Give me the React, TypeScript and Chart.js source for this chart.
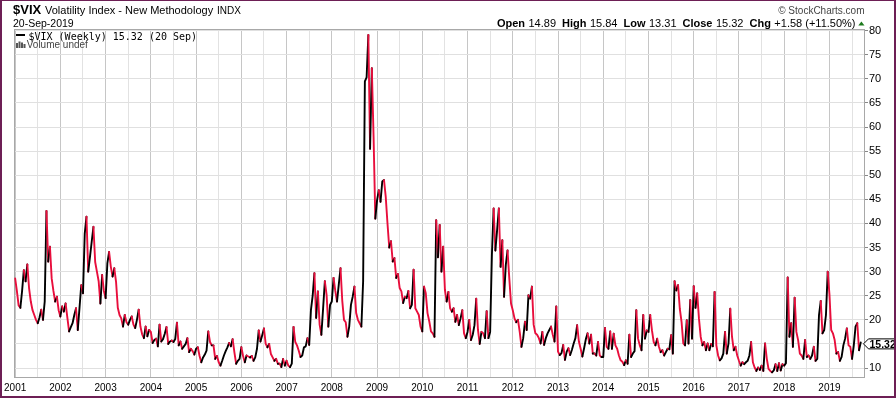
import React, { useEffect, useRef } from 'react';
import { Chart, registerables } from 'chart.js';

Chart.register(...registerables);

// Weekly VIX closes sampled roughly every two weeks (26 values per year)
const v2001 = [28.6, 26, 23, 22.5, 26, 30.3, 28, 31.5, 26.6, 23.8, 22, 21, 20, 19.3, 20.5, 22.1, 20, 23.8, 42.6, 32.1, 35.2, 28.6, 26, 23.8, 24.8, 22];
const v2002 = [20.7, 22.8, 21.7, 23.4, 20.5, 17.6, 18.5, 19.3, 21, 22.4, 17.9, 22.5, 27.2, 25.5, 37.9, 41.4, 30, 33, 36.2, 39.3, 32, 30, 28, 23.4, 29.3, 26];
const v2003 = [24.5, 31.7, 34.1, 31, 29, 30.7, 27.9, 22.5, 21, 20.3, 18.6, 21, 19.5, 19, 20, 20.7, 19, 18.3, 20, 22.1, 18.6, 17, 16.2, 18.6, 16.6, 17.9];
const v2004 = [17.5, 15.2, 15.8, 16.1, 14.5, 19, 15.5, 16, 17.1, 18.5, 15, 15.5, 15.7, 15.4, 16, 19.4, 14.7, 15.5, 14, 14.5, 15, 16.2, 13.3, 14, 13.5, 12.8];
const v2005 = [14, 14.3, 12.5, 11.2, 12.2, 12.8, 13.6, 17.6, 15.4, 14.7, 14.7, 11.9, 12.5, 11.2, 10.5, 11.5, 12.6, 13.5, 14.3, 15.2, 14.5, 16, 13.3, 10.9, 11.5, 11.9];
const v2006 = [14.3, 12.5, 11.2, 12.6, 12.4, 12.2, 12.5, 11.5, 12.2, 14, 17.8, 15.5, 16.8, 18.2, 15, 14.3, 15, 12.9, 12.2, 11.5, 11.9, 10.9, 10.9, 10.2, 11.9, 10.5];
const v2007 = [11.5, 10.5, 10.2, 10.9, 18.5, 15.4, 14.7, 13.6, 12.3, 12.6, 14.3, 14.5, 16.2, 14.8, 22, 25, 29.7, 20.4, 25.9, 19, 16.9, 22.4, 28, 25.2, 18.6, 23.1];
const v2008 = [23.8, 28.7, 26, 23.8, 27.3, 30.7, 24, 20, 19.5, 16.5, 18.6, 23.1, 24.8, 26.9, 21.4, 20, 19.3, 18.6, 28, 69.5, 70.3, 79.1, 55.5, 72.2, 58, 41];
const v2009 = [44.8, 46.9, 44.5, 48.7, 49, 45.5, 40, 35, 36.3, 32.1, 32.8, 28.7, 29.5, 26.6, 25.9, 23.5, 24.8, 24.5, 26, 22.4, 23.1, 30.4, 22.4, 21.7, 21, 18.6];
const v2010 = [17.6, 26.9, 25.5, 21.4, 19.7, 17.6, 17.2, 16.5, 40.7, 33, 39.7, 30, 35.2, 26.2, 23.8, 25.8, 22.4, 21.7, 22.4, 19.6, 21, 18.9, 20.3, 22, 17.2, 16.2];
const v2011 = [17.5, 20, 15.8, 16.9, 18.9, 24.4, 17.9, 15, 17.5, 17.2, 16.2, 21.8, 16.2, 17.5, 33.4, 43.1, 34.4, 38.6, 43.1, 31, 36.5, 24.8, 31.4, 34.4, 28.6, 23.4];
const v2012 = [22, 20.3, 19.5, 20, 17.5, 14.4, 16.2, 19.6, 17.9, 25.1, 24.4, 26.9, 19, 17.2, 16.9, 16.2, 15.1, 17.5, 14.8, 16.2, 17.2, 17.9, 18.6, 16.9, 15.5, 22.8];
const v2013 = [13.4, 12.7, 13.1, 14.8, 11.7, 13.4, 14.1, 12.7, 13.8, 15.1, 16.2, 18.9, 15.5, 14, 12.4, 14.1, 16, 17.2, 15.1, 16.9, 13, 13, 12.6, 15.4, 12.6, 12.3];
const v2014 = [12.3, 18.3, 14.4, 14, 17.6, 14, 17.1, 14.7, 14, 12.6, 11.6, 11.3, 10.6, 11.6, 10.9, 16.9, 12.3, 13, 13.5, 22, 16.1, 14.7, 13.7, 21, 16.1, 17.8];
const v2015 = [17.5, 21, 17.8, 15.4, 14.7, 16.1, 14.4, 13.3, 13.7, 12.6, 13.3, 14, 13.9, 16.8, 13, 28, 26.1, 27.2, 22.3, 19.6, 15.1, 14.7, 19.9, 15.1, 24.1, 16.1];
const v2016 = [27, 22.5, 25.5, 20.3, 16.5, 14.7, 15.4, 13.7, 15.1, 13.7, 15, 14.5, 25.8, 14.7, 12.6, 11.6, 12, 13, 17.5, 13, 15.1, 22.3, 16.5, 13.7, 14.4, 12.6];
const v2017 = [11.5, 10.5, 11.2, 10.8, 11.2, 11.5, 12.6, 15.4, 11.2, 10.1, 9.4, 10.1, 9.6, 10.5, 9.4, 15.1, 11.9, 9.8, 9.4, 9.1, 9.5, 10.8, 9.4, 11, 9.5, 10.8];
const v2018 = [10.5, 11, 28.8, 16.5, 19.3, 14.4, 24.6, 17.5, 15.8, 13, 12.6, 11.9, 15.8, 12.3, 12.6, 11.9, 12.6, 14.4, 11.5, 11.9, 21, 23.9, 17.2, 17.9, 21, 30];
const v2019 = [25.3, 17.9, 17.2, 15.8, 13, 13.3, 11.5, 12.3, 14.7, 16.1, 18.2, 14.7, 14.4, 11.9, 14.7, 18.6, 19.3, 13.7, 15.32];

const years = [2001, 2002, 2003, 2004, 2005, 2006, 2007, 2008, 2009, 2010, 2011, 2012, 2013, 2014, 2015, 2016, 2017, 2018, 2019];
const yearlyValues = [v2001, v2002, v2003, v2004, v2005, v2006, v2007, v2008, v2009, v2010, v2011, v2012, v2013, v2014, v2015, v2016, v2017, v2018, v2019];
const samplesPerYear = 26;

const yTicks = [10, 15, 20, 25, 30, 35, 40, 45, 50, 55, 60, 65, 70, 75, 80];
const lastClose = 15.32;
const quoteLabels = ['Open', 'High', 'Low', 'Close', 'Chg'];
const quoteValues = ['14.89', '15.84', '13.31', '15.32', '+1.58 (+11.50%)'];

const RED = 'rgb(232,14,60)';
const BLACK = '#000000';
const SANS = '"Liberation Sans", Arial, Helvetica, sans-serif';
const MONO = '"DejaVu Sans Mono", monospace';

const points: { x: number; y: number }[] = [];
yearlyValues.forEach((arr, k) => {
  arr.forEach((v, i) => points.push({ x: years[k] + i / samplesPerYear, y: v }));
});

const xGridTicks: number[] = [];
years.forEach((y) => {
  xGridTicks.push(y);
  xGridTicks.push(y + 0.5);
});

const decorPlugin = {
  id: 'decor',
  beforeDatasetsDraw(chart: any) {
    const { ctx, chartArea } = chart;
    ctx.save();
    ctx.strokeStyle = '#a8a8a8';
    ctx.lineWidth = 1;
    ctx.strokeRect(Math.round(chartArea.left) + 0.5, Math.round(chartArea.top) + 0.5,
      Math.round(chartArea.right - chartArea.left) - 1, Math.round(chartArea.bottom - chartArea.top) - 1);
    ctx.restore();
  },
  afterDraw(chart: any) {
    const { ctx, chartArea } = chart;
    const yScale = chart.scales.y;
    ctx.save();
    ctx.textBaseline = 'alphabetic';
    ctx.textAlign = 'left';
    ctx.fillStyle = '#000';
    ctx.font = `bold 13px ${SANS}`;
    ctx.fillText('$VIX', 13, 13.5);
    ctx.font = `11px ${SANS}`;
    ctx.fillText('Volatility Index - New Methodology', 45, 13.5);
    ctx.font = `10px ${SANS}`;
    ctx.fillText('INDX', 217, 13.5);
    ctx.font = `10.5px ${SANS}`;
    ctx.fillText('20-Sep-2019', 13, 26.5);

    ctx.fillStyle = '#444';
    ctx.textAlign = 'right';
    ctx.font = `10px ${SANS}`;
    ctx.fillText('\u00A9 StockCharts.com', 864.5, 13.5);

    // quote line
    ctx.textAlign = 'left';
    ctx.fillStyle = '#000';
    const bold = `bold 11px ${SANS}`;
    const norm = `11px ${SANS}`;
    let total = 0;
    const parts: { t: string; f: string; w: number; gap: number }[] = [];
    quoteLabels.forEach((lab, i) => {
      ctx.font = bold;
      const w1 = ctx.measureText(lab).width;
      parts.push({ t: lab, f: bold, w: w1, gap: 3.5 });
      ctx.font = norm;
      const w2 = ctx.measureText(quoteValues[i]).width;
      const g = i < quoteLabels.length - 1 ? 6 : 0;
      parts.push({ t: quoteValues[i], f: norm, w: w2, gap: g });
      total += w1 + 3.5 + w2 + g;
    });
    let x = 855.5 - total;
    parts.forEach((p) => {
      ctx.font = p.f;
      ctx.fillText(p.t, x, 26.5);
      x += p.w + p.gap;
    });
    ctx.fillStyle = '#1d7a1d';
    ctx.beginPath();
    ctx.moveTo(858.3, 25.5);
    ctx.lineTo(864.5, 25.5);
    ctx.lineTo(861.4, 21.6);
    ctx.closePath();
    ctx.fill();

    // legend inside plot
    ctx.fillStyle = '#000';
    ctx.fillRect(16, 34, 9, 2);
    ctx.font = `10px ${MONO}`;
    ctx.fillText(`$VIX (Weekly) ${lastClose.toFixed(2)} (20 Sep)`, 28.5, 39.5);
    ctx.fillStyle = '#555';
    ctx.fillRect(16, 43, 2, 5);
    ctx.fillRect(18.5, 41.5, 2, 6.5);
    ctx.fillRect(21, 42.5, 2, 5.5);
    ctx.fillRect(23.5, 44, 2, 4);
    ctx.font = `10px ${SANS}`;
    ctx.fillStyle = '#444';
    ctx.fillText('Volume undef', 26.7, 48);

    // price tag
    const yc = yScale.getPixelForValue(lastClose) + 1.5;
    const xl = chartArea.right - 1.5;
    ctx.beginPath();
    ctx.moveTo(xl, yc);
    ctx.lineTo(xl + 5, yc - 5);
    ctx.lineTo(895, yc - 5);
    ctx.lineTo(895, yc + 5);
    ctx.lineTo(xl + 5, yc + 5);
    ctx.closePath();
    ctx.fillStyle = '#fff';
    ctx.fill();
    ctx.strokeStyle = '#000';
    ctx.lineWidth = 1;
    ctx.stroke();
    ctx.fillStyle = '#000';
    ctx.font = `bold 10.5px ${SANS}`;
    ctx.fillText(lastClose.toFixed(2), xl + 6, yc + 4);
    ctx.restore();
  },
};

export default function App() {
  const ref = useRef<HTMLCanvasElement>(null);
  useEffect(() => {
    const canvas = ref.current;
    if (!canvas) return;
    const chart = new Chart(canvas, {
      type: 'line',
      data: {
        datasets: [
          {
            data: points,
            borderColor: BLACK,
            borderWidth: 1.9,
            pointRadius: 0,
            tension: 0,
            borderJoinStyle: 'round',
            borderCapStyle: 'round',
            segment: {
              borderColor: (c: any) => (c.p1.parsed.y < c.p0.parsed.y ? RED : BLACK),
            },
          } as any,
        ],
      },
      options: {
        responsive: false,
        devicePixelRatio: 1,
        animation: false,
        events: [],
        layout: { padding: { left: 13, top: 29, right: 0, bottom: 0 } },
        plugins: { legend: { display: false }, tooltip: { enabled: false } },
        scales: {
          x: {
            type: 'linear',
            min: 2001 - 1 / 45.3,
            max: 2019.786,
            afterBuildTicks: (s: any) => {
              s.ticks = xGridTicks.map((v) => ({ value: v }));
            },
            afterFit: (s: any) => {
              s.height = 20;
            },
            grid: {
              color: (c: any) => (c.tick && Number.isInteger(c.tick.value) ? '#c6c6c6' : '#e2e2e2'),
              lineWidth: 1,
              drawTicks: false,
            },
            border: { display: false },
            ticks: {
              autoSkip: false,
              maxRotation: 0,
              minRotation: 0,
              padding: 4,
              color: '#000',
              font: { family: SANS, size: 10 },
              callback: (v: any) => (Number.isInteger(v) ? String(v) : ''),
            },
          },
          y: {
            type: 'linear',
            position: 'right',
            min: 7.93,
            max: 80.35,
            afterBuildTicks: (s: any) => {
              s.ticks = yTicks.map((v) => ({ value: v }));
            },
            afterFit: (s: any) => {
              s.width = 31;
            },
            grid: { color: '#e0e0e0', lineWidth: 1, drawTicks: true, tickLength: 3, tickColor: '#888' },
            border: { display: false },
            ticks: {
              padding: 1,
              color: '#000',
              font: { family: SANS, size: 11 },
              callback: (v: any) => String(v),
            },
          },
        },
      } as any,
      plugins: [decorPlugin],
    });
    return () => chart.destroy();
  }, []);

  return (
    <div style={{ position: 'fixed', left: 0, top: 0, width: 896, height: 398, background: '#fff' }}>
      <canvas ref={ref} width={896} height={398} style={{ display: 'block', width: 896, height: 398 }} />
      <div
        style={{
          position: 'absolute',
          left: 0,
          top: 0,
          width: 896,
          height: 398,
          boxSizing: 'border-box',
          borderStyle: 'solid',
          borderColor: '#6d1f55',
          borderWidth: '1px 2px 2px 2px',
          pointerEvents: 'none',
        }}
      />
    </div>
  );
}
